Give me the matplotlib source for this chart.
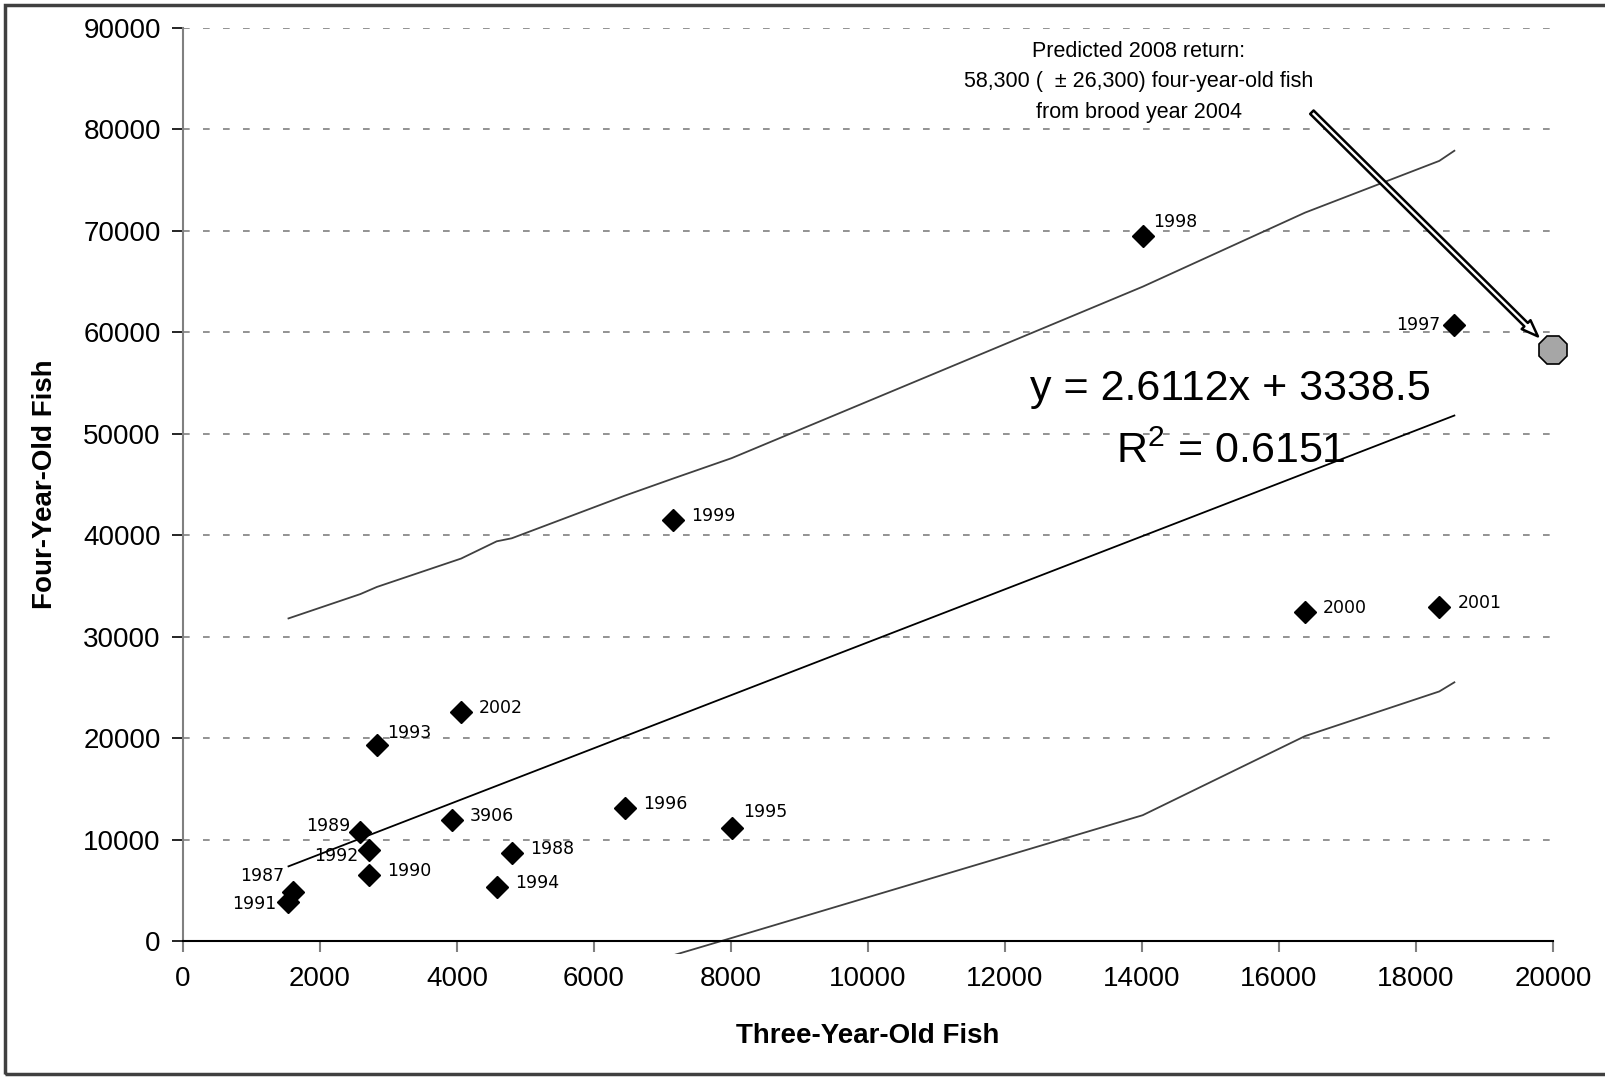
import matplotlib
matplotlib.use("Agg")
import matplotlib.pyplot as plt
from matplotlib.patches import Rectangle

plt.rcParams['font.family'] = ['Liberation Sans', 'DejaVu Sans']
plt.rcParams['mathtext.fontset'] = 'custom'
plt.rcParams['mathtext.rm'] = 'Liberation Sans'
plt.rcParams['mathtext.default'] = 'regular'

# brood-year points: three-year-old vs four-year-old returns
labels = ['1998', '1997', '1999', '2000', '2001', '2002', '1993', '3906', '1996',
          '1995', '1988', '1989', '1992', '1990', '1994', '1987', '1991']
three_yr = [14010, 18560, 7160, 16380, 18340, 4060, 2830, 3920, 6450,
            8010, 4800, 2590, 2710, 2720, 4580, 1600, 1540]
four_yr = [69500, 60700, 41500, 32400, 32900, 22600, 19300, 11900, 13100,
           11100, 8700, 10700, 9000, 6500, 5300, 4800, 3800]

# fitted line and prediction band
fit_x = [1540, 18560]
fit_y = [7360, 51800]
upper_x = [1540, 2590, 2830, 4060, 4580, 4800, 6450, 7160, 8010, 14010, 16380, 18340, 18560]
upper_y = [31800, 34200, 34900, 37700, 39400, 39700, 43900, 45600, 47600, 64500, 71800, 76900, 77900]
lower_x = [6450, 7160, 8010, 14010, 16380, 18340, 18560]
lower_y = [-3300, -1400, 300, 12400, 20200, 24600, 25500]

pred_x = [20000]
pred_y = [58300]

# label offsets in pixels (default: right of the point)
label_offsets = {'1998': (10, 14), '1993': (10, 12), '1995': (11, 16),
                 '1997': (-14, 0), '1989': (-10, 6), '1992': (-10, -6),
                 '1987': (-8, 16), '1991': (-12, -2)}

fig = plt.figure(figsize=(16.06, 10.77), dpi=100)
ax = fig.add_axes([183 / 1606, 1 - 941 / 1077, (1553 - 183) / 1606, (941 - 28) / 1077])

# outer frame
fig.patches.append(Rectangle((5 / 1606, 3 / 1077), 1.2, 1 - 8 / 1077, transform=fig.transFigure,
                             fill=False, ec='#404040', lw=2.5))

ax.set_xlim(0, 20000)
ax.set_ylim(0, 90000)
ax.set_xticks(range(0, 20001, 2000))
ax.set_yticks(range(0, 90001, 10000))
for y in range(10000, 90001, 10000):
    ax.axhline(y, color='#808080', lw=1.2, ls=(0, (4, 8)), zorder=0)

for s in ['top', 'right']:
    ax.spines[s].set_visible(False)
ax.spines['left'].set_color('#808080')
ax.spines['left'].set_linewidth(1.5)
ax.spines['bottom'].set_color('black')
ax.spines['bottom'].set_linewidth(1.5)
ax.tick_params(axis='y', direction='out', length=8, width=1.2, color='black', labelsize=20, pad=8)
ax.tick_params(axis='x', direction='out', length=8, width=1.5, color='#808080', labelsize=20, pad=10)

clip = Rectangle((0, -1250), 20000, 92000, transform=ax.transData)
ax.plot(fit_x, fit_y, color='black', lw=1.3, zorder=2)
ax.plot(upper_x, upper_y, color='#404040', lw=1.3, zorder=2)
low, = ax.plot(lower_x, lower_y, color='#404040', lw=1.3, zorder=2)
low.set_clip_path(clip)

ax.plot(three_yr, four_yr, 'D', color='black', ms=11, zorder=3, clip_on=False)
ax.plot(pred_x, pred_y, '8', mfc='#a6a6a6', mec='black', mew=1.2, ms=22, zorder=3, clip_on=False)

for lab, x, y in zip(labels, three_yr, four_yr):
    dx, dy = label_offsets.get(lab, (18, 4))
    ax.annotate(lab, (x, y), xytext=(dx, dy), textcoords='offset pixels',
                ha='right' if dx < 0 else 'left', va='center',
                fontsize=12.5, family='DejaVu Sans')

ax.text(15290, 54400, 'y = 2.6112x + 3338.5', fontsize=31, ha='center', va='center')
ax.text(15290, 48200, 'R$^2$ = 0.6151', fontsize=31, ha='center', va='center')

ax.text(13950, 84700, 'Predicted 2008 return:\n58,300 (  \u00b1 26,300) four-year-old fish\nfrom brood year 2004',
        ha='center', va='center', fontsize=15.5, linespacing=1.6)
ax.annotate('', xy=(19780, 59600), xytext=(16480, 81700),
            arrowprops=dict(arrowstyle='simple,head_width=0.9,head_length=1.2,tail_width=0.35',
                            fc='white', ec='black', lw=1.8, shrinkA=0, shrinkB=0))

ax.set_xlabel('Three-Year-Old Fish', fontsize=20, fontweight='bold', labelpad=22)
ax.set_ylabel('Four-Year-Old Fish', fontsize=20, fontweight='bold', labelpad=18)

fig.savefig('out.png', dpi=100)
